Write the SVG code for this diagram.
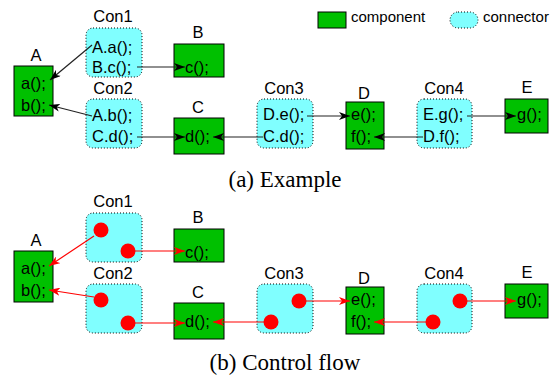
<svg xmlns="http://www.w3.org/2000/svg" width="550" height="376" viewBox="0 0 550 376">
<defs>
<style>
.comp{fill:#00c000;stroke:#000;stroke-width:1}
.conn{fill:#80ffff;stroke:#000;stroke-width:1;stroke-dasharray:1 2}
.t{font-family:"Liberation Sans",Arial,sans-serif;font-size:16.5px;fill:#000}
.lbl{font-family:"Liberation Sans",Arial,sans-serif;font-size:16.5px;fill:#000;text-anchor:middle}
.leg{font-family:"Liberation Sans",Arial,sans-serif;font-size:15px;fill:#000}
.cap{font-family:"Liberation Serif","Times New Roman",serif;font-size:23px;fill:#000;text-anchor:middle}
.bk{stroke:#222;stroke-width:1.2;fill:none;marker-end:url(#ab)}
.rd{stroke:#f00;stroke-width:1.2;fill:none;marker-end:url(#ar)}
.dot{fill:#f00}
</style>
<marker id="ab" markerUnits="userSpaceOnUse" markerWidth="12" markerHeight="8" refX="11" refY="4" orient="auto"><path d="M0,0 L11,4 L0,8 L3,4 z" fill="#000"/></marker>
<marker id="ar" markerUnits="userSpaceOnUse" markerWidth="12" markerHeight="8" refX="11" refY="4" orient="auto"><path d="M0,0 L11,4 L0,8 L3,4 z" fill="#f00"/></marker>
</defs>

<g id="legend">
<rect class="comp" x="318" y="12" width="28" height="16"/>
<text class="leg" x="351" y="22">component</text>
<rect class="conn" x="450" y="12" width="28" height="16" rx="8"/>
<text class="leg" x="483" y="22">connector</text>
</g>

<!-- (a) Example -->
<g id="a-A"><text class="lbl" x="36" y="61">A</text><rect class="comp" x="14" y="66" width="39" height="50"/><text class="t" x="21" y="89">a();</text><text class="t" x="21" y="111">b();</text></g>
<g id="a-Con1"><text class="lbl" x="113" y="22">Con1</text><rect class="conn" x="86" y="28" width="56" height="49" rx="7"/><text class="t" x="92" y="53">A.a();</text><text class="t" x="92" y="73">B.c();</text></g>
<g id="a-B"><text class="lbl" x="198" y="38">B</text><rect class="comp" x="174" y="44" width="50" height="33"/><text class="t" x="185" y="73">c();</text></g>
<g id="a-Con2"><text class="lbl" x="113" y="94">Con2</text><rect class="conn" x="86" y="99" width="56" height="49" rx="7"/><text class="t" x="92" y="121">A.b();</text><text class="t" x="92" y="142">C.d();</text></g>
<g id="a-C"><text class="lbl" x="198" y="113">C</text><rect class="comp" x="174" y="118" width="50" height="36"/><text class="t" x="185" y="142">d();</text></g>
<g id="a-Con3"><text class="lbl" x="284" y="94">Con3</text><rect class="conn" x="257" y="99" width="56" height="49" rx="7"/><text class="t" x="263" y="120">D.e();</text><text class="t" x="263" y="142">C.d();</text></g>
<g id="a-D"><text class="lbl" x="364" y="99">D</text><rect class="comp" x="346" y="102" width="38" height="47"/><text class="t" x="351" y="120">e();</text><text class="t" x="351" y="142">f();</text></g>
<g id="a-Con4"><text class="lbl" x="444" y="94">Con4</text><rect class="conn" x="417" y="99" width="55" height="49" rx="7"/><text class="t" x="423" y="120">E.g();</text><text class="t" x="423" y="142">D.f();</text></g>
<g id="a-E"><text class="lbl" x="527" y="93">E</text><rect class="comp" x="505" y="99" width="43" height="34"/><text class="t" x="517" y="120">g();</text></g>

<g id="a-connectors">
<line class="bk" x1="92" y1="45" x2="50" y2="80"/>
<line class="bk" x1="137" y1="67" x2="185" y2="67"/>
<line class="bk" x1="92" y1="116" x2="49" y2="105"/>
<line class="bk" x1="137" y1="137" x2="185" y2="137"/>
<line class="bk" x1="263" y1="137" x2="213" y2="137"/>
<line class="bk" x1="307" y1="116" x2="350" y2="116"/>
<line class="bk" x1="423" y1="137" x2="374" y2="137"/>
<line class="bk" x1="467" y1="116" x2="516" y2="116"/>
</g>

<text class="cap" x="285" y="187">(a) Example</text>

<!-- (b) Control flow -->
<g id="b-A"><text class="lbl" x="36" y="246">A</text><rect class="comp" x="14" y="251" width="39" height="51"/><text class="t" x="21" y="274">a();</text><text class="t" x="21" y="296">b();</text></g>
<g id="b-Con1"><text class="lbl" x="113" y="207">Con1</text><rect class="conn" x="86" y="213" width="56" height="49" rx="7"/><circle class="dot" cx="101" cy="230" r="7.5"/><circle class="dot" cx="128" cy="251" r="7.5"/></g>
<g id="b-B"><text class="lbl" x="198" y="223">B</text><rect class="comp" x="174" y="229" width="50" height="33"/><text class="t" x="185" y="258">c();</text></g>
<g id="b-Con2"><text class="lbl" x="113" y="279">Con2</text><rect class="conn" x="86" y="284" width="56" height="49" rx="7"/><circle class="dot" cx="101" cy="300" r="7.5"/><circle class="dot" cx="128" cy="323" r="7.5"/></g>
<g id="b-C"><text class="lbl" x="198" y="298">C</text><rect class="comp" x="174" y="303" width="50" height="36"/><text class="t" x="185" y="327">d();</text></g>
<g id="b-Con3"><text class="lbl" x="284" y="279">Con3</text><rect class="conn" x="257" y="284" width="56" height="49" rx="7"/><circle class="dot" cx="299" cy="301" r="7.5"/><circle class="dot" cx="271" cy="322" r="7.5"/></g>
<g id="b-D"><text class="lbl" x="364" y="284">D</text><rect class="comp" x="346" y="287" width="38" height="47"/><text class="t" x="351" y="305">e();</text><text class="t" x="351" y="327">f();</text></g>
<g id="b-Con4"><text class="lbl" x="444" y="279">Con4</text><rect class="conn" x="417" y="284" width="55" height="49" rx="7"/><circle class="dot" cx="460" cy="301" r="7.5"/><circle class="dot" cx="433" cy="322" r="7.5"/></g>
<g id="b-E"><text class="lbl" x="527" y="278">E</text><rect class="comp" x="505" y="284" width="43" height="34"/><text class="t" x="517" y="305">g();</text></g>

<g id="b-connectors">
<line class="rd" x1="94" y1="236" x2="49" y2="266"/>
<line class="rd" x1="135" y1="251" x2="185" y2="251"/>
<line class="rd" x1="94" y1="297" x2="49" y2="290"/>
<line class="rd" x1="135" y1="323" x2="185" y2="323"/>
<line class="rd" x1="264" y1="322" x2="213" y2="322"/>
<line class="rd" x1="306" y1="301" x2="350" y2="301"/>
<line class="rd" x1="426" y1="322" x2="374" y2="322"/>
<line class="rd" x1="467" y1="301" x2="516" y2="301"/>
</g>

<text class="cap" x="285" y="370">(b) Control flow</text>
</svg>
